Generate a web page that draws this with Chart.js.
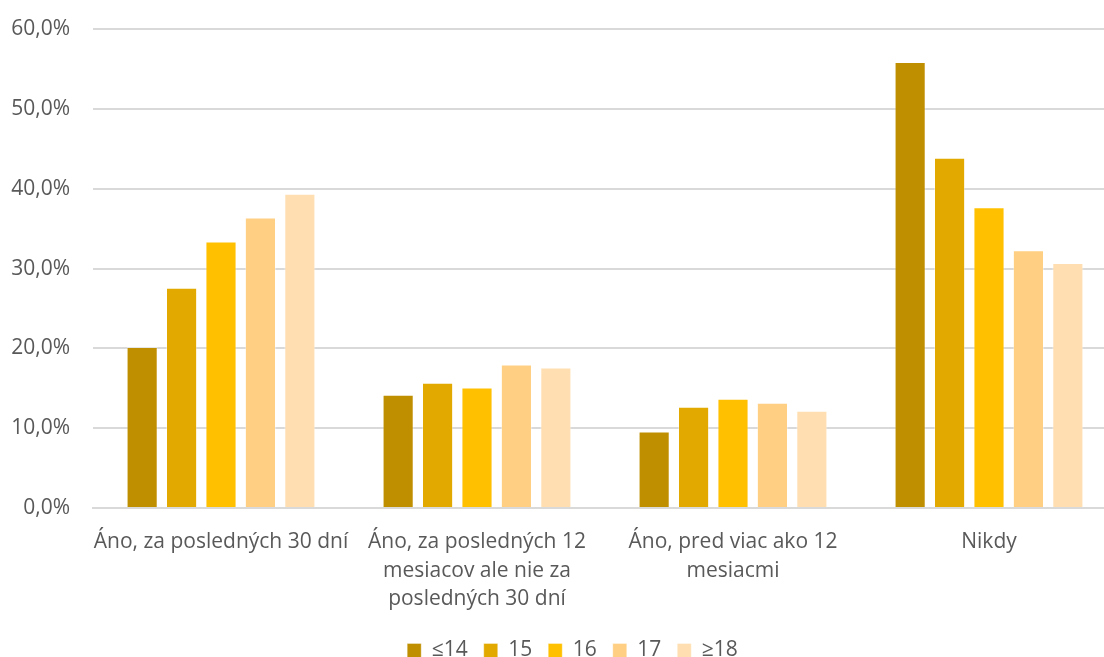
<!DOCTYPE html>
<html>
<head>
<meta charset="utf-8">
<script src="https://cdn.jsdelivr.net/npm/chart.js@4/dist/chart.umd.min.js"></script>
<style>
    html, body { margin: 0; padding: 0; background: #fff; overflow: hidden; }
    #wrap { width: 1120px; height: 657px; }
</style>
</head>
<body>
<div id="wrap"><canvas id="chart" width="1120" height="657"></canvas></div>
<script>
// data
const categories = [
    ["Áno, za posledných 30 dní"],
    ["Áno, za posledných 12", "mesiacov ale nie za", "posledných 30 dní"],
    ["Áno, pred viac ako 12", "mesiacmi"],
    ["Nikdy"]
];
const seriesNames = ["≤14", "15", "16", "17", "≥18"];
const age14 = [20.2, 14.2, 9.6, 55.9];
const age15 = [27.6, 15.7, 12.7, 43.9];
const age16 = [33.4, 15.1, 13.7, 37.7];
const age17 = [36.4, 18.0, 13.2, 32.3];
const age18 = [39.4, 17.6, 12.2, 30.7];
const yMax = 60;
const yStep = 10;

const colors = ["#BF8F00", "#E2AA00", "#FFC000", "#FFCF83", "#FFDFB2"];
const seriesValues = [age14, age15, age16, age17, age18];

const FONT = "'Open Sans', sans-serif";
const TEXT = "#595959";

const datasets = seriesNames.map((name, i) => ({
    label: name,
    data: seriesValues[i],
    backgroundColor: colors[i],
    borderColor: "rgba(255,255,255,0.35)",
    borderWidth: 1,
    categoryPercentage: 0.77,
    barPercentage: 0.79
}));

// nudge the legend so it sits where the original one does
const legendShift = {
    id: "legendShift",
    afterLayout(chart) {
        const lg = chart.legend;
        if (!lg) return;
        const dx = 14, dy = -1;
        lg.left += dx; lg.right += dx;
        lg.top += dy; lg.bottom += dy;
    }
};

new Chart(document.getElementById("chart"), {
    type: "bar",
    data: { labels: categories, datasets: datasets },
    plugins: [legendShift],
    options: {
        responsive: false,
        animation: false,
        layout: { padding: { left: 0, right: 3, top: 0, bottom: -15 } },
        plugins: {
            tooltip: { enabled: false },
            legend: {
                position: "bottom",
                labels: {
                    color: TEXT,
                    font: { family: FONT, size: 21 },
                    boxWidth: 14,
                    boxHeight: 14,
                    padding: 16
                }
            }
        },
        scales: {
            x: {
                grid: { display: false },
                border: { color: "#d9d9d9", width: 2 },
                ticks: {
                    color: TEXT,
                    font: { family: FONT, size: 21, lineHeight: 1.38 },
                    maxRotation: 0,
                    autoSkip: false,
                    padding: 11
                }
            },
            y: {
                min: 0,
                max: yMax,
                afterFit: (axis) => { axis.width = 93; },
                grid: { color: "#d9d9d9", lineWidth: 2, drawTicks: false },
                border: { display: false },
                ticks: {
                    stepSize: yStep,
                    color: TEXT,
                    font: { family: FONT, size: 21, lineHeight: 0.6 },
                    padding: 23,
                    callback: (value) => Number(value).toFixed(1).replace(".", ",") + "%"
                }
            }
        }
    }
});
</script>
</body>
</html>
